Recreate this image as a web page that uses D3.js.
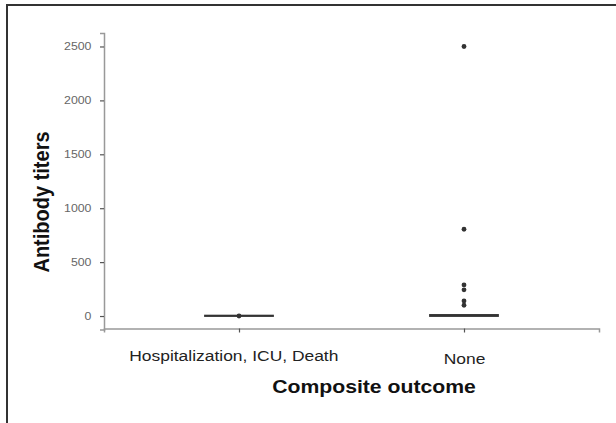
<!DOCTYPE html>
<html>
<head>
<meta charset="utf-8">
<script src="https://cdn.jsdelivr.net/npm/d3@7"></script>
<style>
  body { margin: 0; background: #fff; }
  text { font-family: "Liberation Sans", Arial, sans-serif; }
</style>
</head>
<body>
<div id="chart"></div>
<script>
(function(){
const groups = ["Hospitalization, ICU, Death", "None"];
// box stats per group: lower quartile, median, upper quartile
const boxLow = [0, 0];
const boxMid = [2, 5];
const boxHigh = [4, 10];
// individual points shown per group
const hospPoints = [0];
const nonePoints = [2500, 805, 288, 243, 140, 100];
const yTicks = [0, 500, 1000, 1500, 2000, 2500];

const width = 616;
const height = 423;
const stretch = 1.14; // the source picture is a bit wider than tall

const svg = d3.select("#chart")
  .append("svg")
  .attr("width", width)
  .attr("height", height);

// outer frame (left + top edges only)
svg.append("path")
  .attr("d", `M7,${height} L7,5 L${width},5`)
  .attr("fill", "none")
  .attr("stroke", "#333")
  .attr("stroke-width", 2);

const x = d3.scalePoint()
  .domain(groups)
  .range([104, 599])
  .padding(0.6);

const y = d3.scaleLinear()
  .domain([-125, 2625])
  .range([329.5, 33]);

// axes
const yAxis = svg.append("g")
  .attr("transform", "translate(104,0)")
  .call(d3.axisLeft(y).tickValues(yTicks).tickFormat(d3.format("d")).tickSize(4).tickPadding(7));
yAxis.select(".domain").attr("stroke", "#999").attr("stroke-width", 1.5);
yAxis.selectAll(".tick line").attr("stroke", "#555").attr("stroke-width", 1.2);
yAxis.selectAll(".tick text")
  .attr("fill", "#666")
  .attr("font-size", 10.8)
  .attr("transform", `scale(${stretch},1)`);

const xAxis = svg.append("g")
  .attr("transform", "translate(0,328.5)")
  .call(d3.axisBottom(x).tickSize(4));
xAxis.select(".domain").attr("stroke", "#999").attr("stroke-width", 1.5);
xAxis.selectAll(".tick line").attr("stroke", "#555").attr("stroke-width", 1.2);
xAxis.selectAll(".tick text")
  .attr("fill", "#222")
  .attr("font-size", 15.3)
  .attr("dy", null)
  .attr("y", (d, i) => i === 0 ? 32.5 : 35.5)
  .attr("x", (d, i) => i === 0 ? -5 : 0)
  .attr("transform", `scale(${stretch},1)`);

// boxes (collapsed near zero)
const boxW = 68;
groups.forEach((g, i) => {
  svg.append("rect")
    .attr("x", x(g) - boxW / 2)
    .attr("y", y(boxHigh[i]))
    .attr("width", boxW)
    .attr("height", Math.max(0.1, y(boxLow[i]) - y(boxHigh[i])))
    .attr("fill", "#333")
    .attr("stroke", "#333")
    .attr("stroke-width", 1.8);
});

// points
const pts = hospPoints.map(v => ({g: groups[0], v}))
  .concat(nonePoints.map(v => ({g: groups[1], v})));
svg.selectAll(".pt")
  .data(pts)
  .enter().append("circle")
  .attr("class", "pt")
  .attr("cx", d => x(d.g))
  .attr("cy", d => y(d.v))
  .attr("r", 2.4)
  .attr("fill", "#333");

// axis titles
svg.append("text")
  .attr("transform", `translate(374,393) scale(${stretch},1)`)
  .attr("text-anchor", "middle")
  .attr("font-size", 18.6)
  .attr("font-weight", "bold")
  .attr("fill", "#111")
  .text("Composite outcome");

svg.append("text")
  .attr("transform", `translate(49,202) scale(${stretch},1) rotate(-90)`)
  .attr("text-anchor", "middle")
  .attr("font-size", 20)
  .attr("font-weight", "bold")
  .attr("fill", "#111")
  .text("Antibody titers");
})();
</script>
</body>
</html>
